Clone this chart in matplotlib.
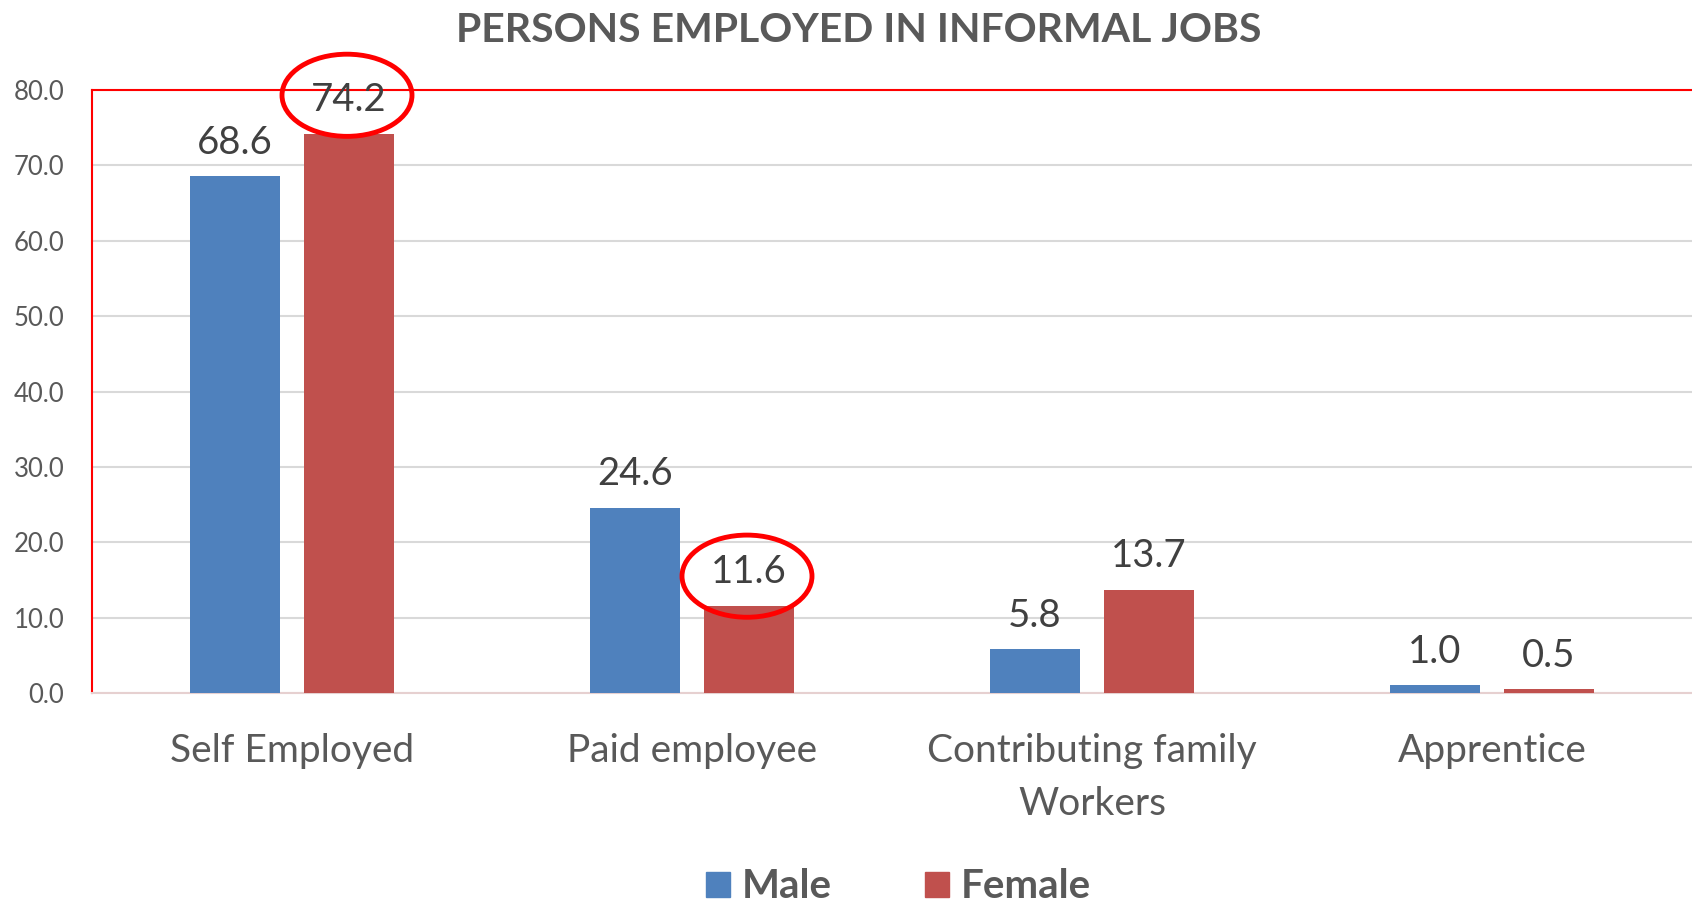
import matplotlib.pyplot as plt
from matplotlib.patches import Ellipse, Patch
import numpy as np

categories = ["Self Employed", "Paid employee", "Contributing family\nWorkers", "Apprentice"]
male = [68.6, 24.6, 5.8, 1.0]
female = [74.2, 11.6, 13.7, 0.5]
yticks = [0, 10, 20, 30, 40, 50, 60, 70, 80]

blue = "#4F81BD"
red = "#C0504D"
gray = "#595959"

plt.rcParams['font.family'] = ['Lato', 'DejaVu Sans']

fig = plt.figure(figsize=(16.92, 9.07), dpi=100)
ax = fig.add_axes([92 / 1692, 1 - 693 / 907, 1 - 92 / 1692, (693 - 90) / 907])

x = np.arange(len(categories))
w = 0.225
off = 0.1425
b1 = ax.bar(x - off, male, w, color=blue, label="Male", zorder=3)
b2 = ax.bar(x + off, female, w, color=red, label="Female", zorder=3)

for bars, vals in [(b1, male), (b2, female)]:
    for b, v in zip(bars, vals):
        ax.annotate(f"{v:.1f}", (b.get_x() + b.get_width() / 2, v),
                    xytext=(0, 24), textcoords="offset points",
                    ha="center", va="center", fontsize=27.5, color="#404040",
                    zorder=5, annotation_clip=False)

ax.set_xlim(-0.5, 3.5)
ax.set_ylim(0, 80)
ax.set_yticks(yticks)
ax.set_yticklabels([f"{t:.1f}" for t in yticks], fontsize=18.5, color=gray)
ax.set_xticks(x)
ax.set_xticklabels(categories, fontsize=28, color=gray, linespacing=1.58)
ax.tick_params(axis="both", length=0)
ax.tick_params(axis="y", pad=20)
ax.tick_params(axis="x", pad=29)
ax.yaxis.grid(True, color="#D9D9D9", linewidth=1.5, zorder=0)
ax.set_axisbelow(True)

ax.spines["right"].set_visible(False)
ax.spines["top"].set_color("red")
ax.spines["top"].set_linewidth(1.5)
ax.spines["left"].set_color("red")
ax.spines["left"].set_linewidth(1.5)
ax.spines["bottom"].set_color("#E6D0D0")
ax.spines["bottom"].set_linewidth(1.5)

# highlight circles
for cx, cy in [(0.1375, 79.3), (1.1375, 15.5)]:
    e = Ellipse((cx, cy), 0.325, 10.9, fill=False, edgecolor="red",
                linewidth=3.5, clip_on=False, zorder=6)
    ax.add_patch(e)

fig.text(859 / 1692, 1 - 30 / 907, "PERSONS EMPLOYED IN INFORMAL JOBS",
         ha="center", va="center", fontsize=29.5, fontweight="bold", color=gray)

handles = [Patch(color=blue, label="Male"), Patch(color=red, label="Female")]
leg = fig.legend(handles=handles, loc="center", bbox_to_anchor=(0.531, 1 - 887 / 907),
                 ncol=2, frameon=False, handlelength=0.6, handleheight=0.6,
                 columnspacing=2.3, handletextpad=0.3, borderpad=0.2,
                 prop={"size": 29, "weight": "bold"})
for t in leg.get_texts():
    t.set_color(gray)

fig.savefig("out.png", dpi=100)
